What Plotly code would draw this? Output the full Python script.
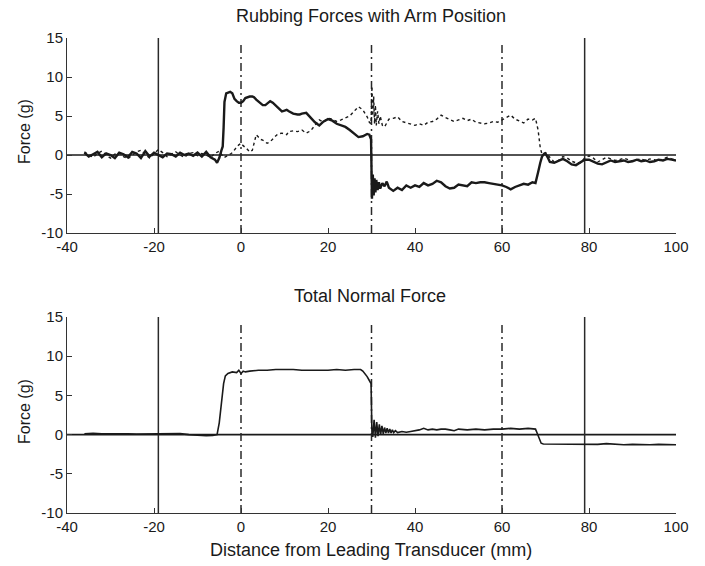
import plotly.graph_objects as go

# ---- Rubbing forces (top panel) ----
rub_x = [-36, -35, -34, -33, -32, -31, -30, -29, -28, -27, -26, -25, -24, -23, -22, -21,
         -20, -19, -18, -17, -16, -15, -14, -13, -12, -11, -10, -9, -8, -7, -6, -5.5,
         -5, -4.5, -4.2, -4.0, -3.8, -3.4, -3.0, -2.5, -2.0, -1.5, -1.0, -0.5, 0, 0.5,
         1, 1.5, 2, 2.6, 3, 3.5, 4, 4.5, 5, 5.6, 6, 6.7, 7.3, 7.9, 8.5, 9.4, 10, 10.5,
         11, 12, 13, 13.5, 14, 15, 16, 17, 18, 19, 20, 21, 22, 23, 24, 25, 26, 27, 28,
         29, 29.5, 29.9, 30.1, 30.3, 30.5, 30.7, 30.9, 31.1, 31.4, 31.7, 32, 32.5, 33,
         33.5, 34, 35, 36, 37, 38, 39, 40, 41, 42, 43, 44, 45, 46, 47, 48, 49, 50, 51,
         52, 53, 54, 55, 56, 57, 58, 59, 60, 61, 62, 63, 64, 65, 66, 67, 67.7, 68, 68.3,
         68.8, 69.2, 69.6, 70, 70.5, 71, 72, 73, 74, 75, 76, 77, 78, 79, 80, 81, 82, 83,
         84, 85, 86, 87, 88, 89, 90, 91, 92, 93, 94, 95, 96, 97, 98, 99, 100]

# lead arm (heavy solid trace)
rub_lead = [0.3, -0.2, 0.1, 0.4, -0.3, 0.2, 0.0, -0.4, 0.3, 0.1, -0.3, 0.4, 0.2, -0.4, 0.5, -0.2,
            0.3, 0.0, -0.3, 0.2, 0.1, -0.2, 0.3, 0.0, 0.2, -0.1, 0.3, -0.2, 0.4, -0.3, -0.6, -1.0,
            -0.4, 0.6, 1.1, 3.5, 6.8, 7.9, 8.0, 8.1, 7.9, 7.2, 6.9, 6.7, 6.7, 6.9,
            7.3, 7.4, 7.5, 7.5, 7.4, 7.1, 6.9, 6.6, 6.4, 6.4, 6.6, 6.9, 6.7, 6.4, 6.0, 5.6, 5.7, 5.8,
            5.6, 5.3, 5.2, 5.2, 5.3, 5.4, 4.8, 4.2, 3.8, 4.3, 4.6, 4.4, 4.0, 3.8, 3.6, 3.2, 2.7, 2.3, 2.4,
            2.7, 2.6, 2.0, -5.6, -2.5, -5.2, -3.0, -4.8, -3.2, -4.5, -3.5, -4.3, -3.6, -4.0,
            -3.4, -4.2, -4.6, -4.2, -4.5, -3.9, -4.2, -3.9, -4.1, -3.6, -3.9, -3.7, -3.3, -3.5, -4.0, -4.3, -4.2, -3.8, -3.9,
            -4.0, -3.5, -3.6, -3.5, -3.5, -3.6, -3.7, -3.8, -3.9, -4.1, -4.4, -4.1, -3.9, -3.7, -3.8, -3.5, -3.6, -3.0, -2.2,
            -1.0, -0.2, 0.1, 0.2, -0.3, -0.9, -1.0, -0.7, -0.5, -0.8, -1.2, -1.3, -1.0, -0.6, -0.6, -0.9, -1.1, -1.2,
            -0.9, -0.7, -0.9, -0.8, -0.7, -0.9, -0.8, -0.6, -0.8, -0.7, -0.9, -0.8, -0.6, -0.7, -0.5, -0.6, -0.7]

# trailing arm (dotted trace)
rub_trail = [0.4, 0.1, -0.3, 0.2, 0.5, 0.0, -0.4, 0.1, 0.3, -0.2, -0.5, 0.0, 0.4, 0.6, 0.1, -0.4,
             0.2, 0.7, 0.3, -0.2, 0.1, 0.4, 0.0, -0.3, 0.2, 0.3, -0.1, 0.2, 0.0, -0.3, 0.2, 0.4,
             0.5, 0.1, -0.2, -0.3, -0.3, -0.2, -0.1, 0.1, 0.3, 0.7, 1.0, 1.3, 1.5, 1.2,
             1.0, 0.7, 0.4, 0.6, 1.5, 2.6, 2.3, 2.0, 1.9, 1.6, 1.5, 1.7, 2.1, 2.4, 2.7, 2.8, 2.7, 2.6,
             3.0, 3.1, 3.0, 3.1, 3.2, 2.8, 3.1, 3.8, 4.5, 4.2, 4.7, 4.6, 4.3, 4.5, 4.8, 5.0, 5.6, 6.2, 5.8,
             4.9, 4.2, 4.0, 8.8, 5.0, 7.5, 4.0, 6.4, 3.8, 5.6, 4.0, 5.0, 3.8, 3.6,
             4.2, 4.6, 4.7, 4.9, 4.3, 4.1, 4.0, 3.8, 4.0, 3.8, 4.2, 4.3, 4.6, 5.1, 4.8, 4.5, 4.3, 4.5, 4.7,
             4.4, 4.6, 4.2, 4.1, 4.0, 4.1, 4.3, 4.2, 4.5, 4.8, 5.1, 4.6, 4.4, 4.1, 4.6, 4.5, 4.7, 4.0, 3.2,
             0.9, 0.1, 0.2, 0.3, 0.0, -0.3, -0.9, -0.7, -0.2, -0.4, -0.8, -1.0, -1.0, -0.4, -0.1, -0.4, -0.9, -0.6,
             -0.3, -0.5, -0.7, -0.6, -0.4, -0.6, -0.8, -0.6, -0.5, -0.7, -0.5, -0.6, -0.8, -0.5, -0.3, -0.5, -0.6]

# ---- Total normal force (bottom panel) ----
normal_x = [-36, -34, -32, -30, -28, -26, -24, -22, -20, -18, -16, -14, -12, -10, -8, -6.5,
            -5.5, -5, -4.5, -4, -3.6, -3, -2, -1, -0.5, 0, 0.5, 1, 2, 4, 6, 8, 10, 12, 14,
            16, 18, 20, 22, 24, 26, 27.5, 28, 28.5, 29, 29.5, 29.9, 30.1, 30.3, 30.6, 30.9,
            31.2, 31.5, 31.8, 32.1, 32.4, 32.7, 33.0, 33.3, 33.6, 33.9, 34.2, 34.5, 34.8,
            35.1, 35.5, 36, 37, 38, 39, 40, 41, 42, 43, 44, 45, 46, 47, 48, 49, 50, 52, 54,
            56, 58, 60, 62, 64, 66, 67.7, 68, 68.5, 69, 69.5, 70, 72, 74, 76, 78, 80, 82, 84,
            86, 88, 90, 92, 94, 96, 98, 100]
normal_force = [0.1, 0.15, 0.1, 0.12, 0.1, 0.1, 0.08, 0.1, 0.1, 0.05, 0.1, 0.12, 0.0, -0.1, -0.15, -0.1,
                0.0, 1.5, 4.0, 6.5, 7.5, 7.8, 8.0, 7.9, 8.2, 7.8, 8.1, 8.0, 8.1, 8.2, 8.2, 8.3, 8.3, 8.3, 8.2,
                8.2, 8.2, 8.2, 8.3, 8.2, 8.3, 8.3, 8.1, 7.8, 7.4, 6.9, 6.5, 0.2, -0.3, 1.9, -0.4,
                1.6, -0.2, 1.3, 0.0, 1.1, 0.1, 0.9, 0.2, 0.8, 0.2, 0.7, 0.2, 0.6,
                0.25, 0.5, 0.25, 0.4, 0.3, 0.4, 0.5, 0.6, 0.8, 0.6, 0.7, 0.6, 0.7, 0.7, 0.6, 0.5, 0.7, 0.6, 0.7,
                0.6, 0.7, 0.7, 0.8, 0.7, 0.8, 0.7, 0.3, -0.5, -1.1, -1.2, -1.2, -1.2, -1.25, -1.2, -1.2, -1.2, -1.25, -1.15,
                -1.2, -1.3, -1.25, -1.3, -1.3, -1.25, -1.3, -1.3]

# arm position markers
arm_solid = [-19, 79]
arm_dashdot = [0, 30, 60]

x_ticks = [-40, -20, 0, 20, 40, 60, 80, 100]
x_labels = ["-40", "-20", "0", "20", "40", "60", "80", "100"]
y_ticks = [-10, -5, 0, 5, 10, 15]
y_labels = ["-10", "-5", "0", "5", "10", "15"]

W, H = 705, 566
FONT = "Liberation Sans, Arial, sans-serif"
INK = "#1a1a1a"


def px_x(p):
    return p / W


def px_y(p):
    return 1 - p / H


fig = go.Figure()

fig.add_trace(go.Scatter(x=rub_x, y=rub_trail, mode="lines", xaxis="x", yaxis="y",
                         line=dict(color=INK, width=1.4, dash="dot"), showlegend=False))
fig.add_trace(go.Scatter(x=rub_x, y=rub_lead, mode="lines", xaxis="x", yaxis="y",
                         line=dict(color=INK, width=2.4), showlegend=False))
fig.add_trace(go.Scatter(x=normal_x, y=normal_force, mode="lines", xaxis="x2", yaxis="y2",
                         line=dict(color=INK, width=1.6), showlegend=False))

shapes = []
for xa, ya in (("x", "y"), ("x2", "y2")):
    # zero reference line across the full range
    shapes.append(dict(type="line", xref=xa, yref=ya, x0=-40, x1=100, y0=0, y1=0,
                       line=dict(color=INK, width=1.6), layer="below"))
    for xv in arm_solid:
        shapes.append(dict(type="line", xref=xa, yref=ya, x0=xv, x1=xv, y0=-10, y1=15,
                           line=dict(color="#2a2a2a", width=1.5), layer="below"))
    for xv in arm_dashdot:
        shapes.append(dict(type="line", xref=xa, yref=ya, x0=xv, x1=xv, y0=-10, y1=14.4,
                           line=dict(color="#2a2a2a", width=1.5, dash="8px,4px,2px,4px"),
                           layer="below"))

axis_common = dict(showline=True, linecolor="#333333", linewidth=1, ticks="inside",
                   ticklen=5, tickcolor="#333333", showgrid=False, zeroline=False,
                   mirror=False, automargin=False,
                   tickfont=dict(family=FONT, size=15, color=INK))
x_common = dict(range=[-40, 100], tickvals=x_ticks, ticktext=x_labels, **axis_common)
y_common = dict(range=[-10, 15], tickvals=y_ticks, ticktext=y_labels, **axis_common)

x_dom = [px_x(67), px_x(676)]
fig.update_layout(
    width=W, height=H,
    margin=dict(l=0, r=0, t=0, b=0, autoexpand=False),
    paper_bgcolor="white", plot_bgcolor="white",
    shapes=shapes,
    xaxis=dict(domain=x_dom, anchor="y", **x_common),
    yaxis=dict(domain=[px_y(233), px_y(38)], anchor="x", **y_common),
    xaxis2=dict(domain=x_dom, anchor="y2", **x_common),
    yaxis2=dict(domain=[px_y(513), px_y(317)], anchor="x2", **y_common),
)

title_font = dict(family=FONT, size=18, color=INK)
label_font = dict(family=FONT, size=16, color=INK)
annotations = [
    dict(text="Rubbing Forces with Arm Position", x=px_x(371), y=px_y(16), font=title_font),
    dict(text="Total Normal Force", x=px_x(370), y=px_y(296), font=title_font),
    dict(text="Distance from Leading Transducer (mm)", x=px_x(371), y=px_y(550), font=title_font),
    dict(text="Force (g)", x=px_x(24), y=px_y(132), textangle=-90, font=label_font),
    dict(text="Force (g)", x=px_x(24), y=px_y(412), textangle=-90, font=label_font),
]
for a in annotations:
    a.update(xref="paper", yref="paper", showarrow=False,
             xanchor="center", yanchor="middle")
fig.update_layout(annotations=annotations)

fig.write_html("out.html")
